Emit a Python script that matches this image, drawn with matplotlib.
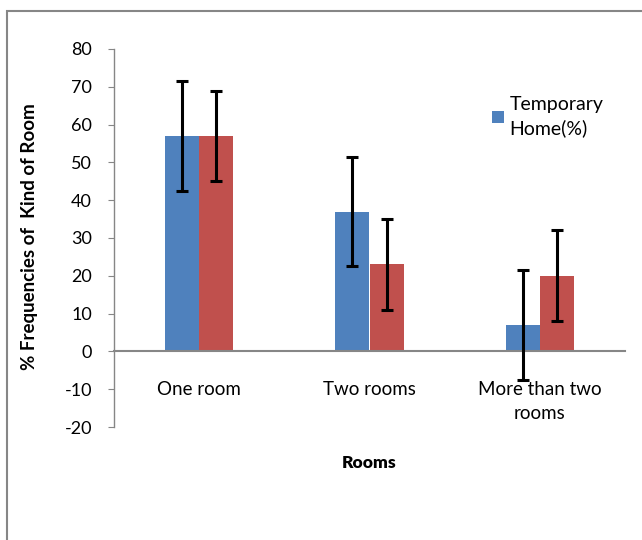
import matplotlib
matplotlib.use('Agg')
import matplotlib.pyplot as plt
from matplotlib.patches import Rectangle
import numpy as np

plt.rcParams['font.family'] = ['Lato', 'DejaVu Sans']
plt.rcParams['axes.unicode_minus'] = False

# data
categories = ['One room', 'Two rooms', 'More than two\nrooms']
temporary = [57, 37, 7]
temporary_err = [14.5, 14.5, 14.5]
other = [57, 23, 20]
other_err = [12, 12, 12]
yticks = [-20, -10, 0, 10, 20, 30, 40, 50, 60, 70, 80]

blue = '#4F81BD'
red = '#C0504D'
grey = '#868686'

fig = plt.figure(figsize=(6.42, 5.4), dpi=100)
ax = fig.add_axes([114 / 642, 1 - 427 / 540, 511 / 642, 378 / 540])

x = np.arange(len(categories))
w = 0.2
ax.bar(x - w / 2, temporary, width=w, color=blue, label='Temporary\nHome(%)', zorder=2)
ax.bar(x + w / 2, other, width=w, color=red, zorder=2)
ax.errorbar(x - w / 2, temporary, yerr=temporary_err, fmt='none', ecolor='black',
            elinewidth=2.2, capsize=4.6, capthick=2.2, zorder=3)
ax.errorbar(x + w / 2, other, yerr=other_err, fmt='none', ecolor='black',
            elinewidth=2.2, capsize=4.6, capthick=2.2, zorder=3)

ax.set_xlim(-0.5, 2.5)
ax.set_ylim(-20, 80)
ax.set_yticks(yticks)
ax.set_xticks(x)
ax.set_xticklabels(categories)

# axes styling
for s in ['top', 'right']:
    ax.spines[s].set_visible(False)
ax.spines['bottom'].set_position(('data', 0))
ax.spines['bottom'].set_color(grey)
ax.spines['bottom'].set_linewidth(1.5)
ax.spines['left'].set_color(grey)
ax.spines['left'].set_linewidth(1.0)
ax.tick_params(axis='y', direction='out', length=4.3, color=grey, labelsize=13, pad=11.5)
ax.tick_params(axis='x', length=0, pad=21, labelsize=13.5)
ax.patch.set_alpha(0)

fig.text(30 / 642, 1 - 237 / 540, '% Frequencies of  Kind of Room', rotation=90,
         ha='center', va='center', fontsize=13.5, fontweight='bold')
fig.text(369 / 642, 1 - 463 / 540, 'Rooms', ha='center', va='center',
         fontsize=12.5, fontweight='heavy')

leg = fig.legend(loc='upper left', bbox_to_anchor=(492 / 642, 1 - 96 / 540), frameon=False,
                 fontsize=14, handlelength=0.6, handleheight=0.6, handletextpad=0.3,
                 borderaxespad=0, borderpad=0)
for t in leg.get_texts():
    t.set_linespacing(1.45)

# outer chart frame (cropped at right and bottom)
fig.patches.append(Rectangle((7 / 642, -0.1), 1.2, 1 - 11 / 540 + 0.1,
                             transform=fig.transFigure, fill=False,
                             edgecolor=grey, linewidth=1.5))

fig.canvas.draw()
for tick in ax.xaxis.get_major_ticks():
    tick.label1.set_linespacing(1.5)

fig.savefig('out.png', dpi=100)
